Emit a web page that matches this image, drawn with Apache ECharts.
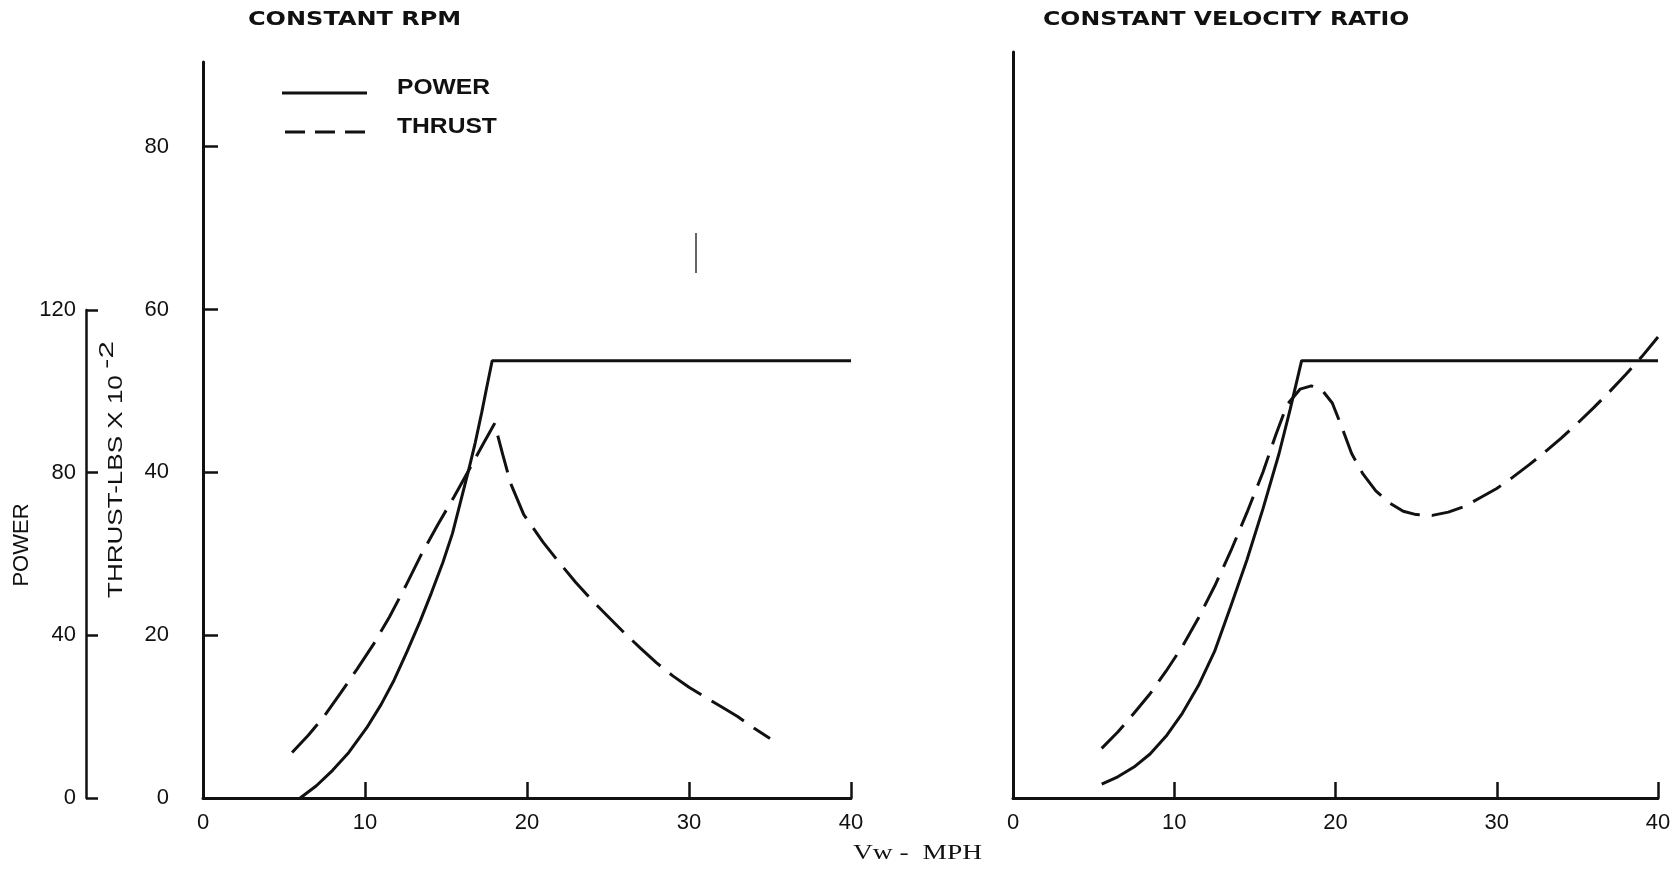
<!DOCTYPE html>
<html>
<head>
<meta charset="utf-8">
<title>Constant RPM / Constant velocity ratio</title>
<script src="https://cdn.jsdelivr.net/npm/echarts@6/dist/echarts.min.js"></script>
<style>
  html, body { margin: 0; background: #fff; }
  #chart { width: 1679px; height: 870px; }
</style>
</head>
<body>
<div id="chart"></div>
<script>
// Power and thrust vs wind speed Vw (mph); thrust axis in lbs x 10^-2, power = 2 x thrust scale
const X_TICKS = [0, 10, 20, 30, 40];
const THRUST_TICKS = [0, 20, 40, 60, 80];
const POWER_TICKS = [0, 40, 80, 120];

// left panel: constant RPM
const rpmPower = [
  [6.0, 0], [7.0, 1.5], [8.0, 3.4], [9.0, 5.6], [10.1, 8.6], [11.0, 11.5], [11.8, 14.5],
  [12.6, 18.0], [13.4, 21.7], [14.1, 25.2], [14.8, 28.9], [15.4, 32.5], [15.9, 36.4],
  [16.4, 40.3], [16.8, 43.6], [17.2, 47.3], [17.5, 50.3], [17.85, 53.7], [40, 53.7]
];
const rpmThrust = [
  [5.5, 5.6], [6.5, 7.7], [7.5, 10.1], [8.5, 12.9], [9.5, 15.8], [10.5, 18.8], [11.5, 22.2],
  [12.5, 26.0], [13.5, 30.0], [14.5, 33.6], [15.5, 37.0], [16.5, 40.6], [17.3, 43.5],
  [18.0, 46.0], [18.5, 42.2], [19.0, 38.6], [19.8, 34.8], [21.0, 31.4], [22.0, 28.9],
  [23.0, 26.5], [24.0, 24.3], [25.0, 22.3], [26.0, 20.3], [27.0, 18.4], [28.0, 16.6],
  [29.0, 15.0], [30.0, 13.6], [31.0, 12.4], [32.0, 11.2], [33.0, 10.0], [34.0, 8.6], [35.0, 7.3]
];

// right panel: constant velocity ratio
const cvrPower = [
  [5.5, 1.7], [6.5, 2.6], [7.5, 3.8], [8.5, 5.4], [9.5, 7.6], [10.5, 10.4], [11.5, 13.8],
  [12.5, 18.0], [13.5, 23.5], [14.5, 29.2], [15.5, 35.5], [16.5, 42.3], [17.2, 47.8],
  [17.9, 53.7], [40, 53.7]
];
const cvrThrust = [
  [5.5, 6.1], [6.5, 8.1], [7.5, 10.4], [8.5, 12.8], [9.5, 15.6], [10.5, 18.6], [11.5, 22.1],
  [12.5, 26.0], [13.5, 30.3], [14.5, 35.0], [15.5, 40.0], [16.3, 44.6], [17.0, 48.3],
  [17.8, 50.2], [18.5, 50.6], [19.2, 50.0], [19.8, 48.5], [20.4, 45.5], [21.0, 42.3],
  [21.7, 39.8], [22.5, 37.7], [23.3, 36.3], [24.2, 35.2], [25.0, 34.8], [26.0, 34.7],
  [27.0, 35.1], [28.0, 35.8], [29.0, 36.9], [30.0, 38.0], [31.0, 39.4], [32.0, 40.9],
  [33.0, 42.5], [34.0, 44.2], [35.0, 46.0], [36.0, 47.9], [37.0, 49.9], [38.0, 52.0],
  [39.0, 54.2], [40.0, 56.6]
];

const INK = '#111';
const SANS = '"Liberation Sans", Arial, sans-serif';
const lbl = { color: INK, fontFamily: SANS, fontSize: 22 };

function xAxisFor(grid) {
  return {
    gridIndex: grid, type: 'value', min: 0, max: 40, interval: 10,
    axisLine: { show: true, onZero: false, lineStyle: { color: INK, width: 3 } },
    axisTick: { show: true, inside: true, length: 16, lineStyle: { color: INK, width: 2.5 } },
    axisLabel: Object.assign({ margin: 14, customValues: X_TICKS }, lbl),
    splitLine: { show: false }
  };
}

function line(name, data, x, y, dash) {
  return {
    name, type: 'line', xAxisIndex: x, yAxisIndex: y, data,
    showSymbol: false, symbol: 'none', smooth: false, animation: false,
    lineStyle: { color: INK, width: 3, type: dash || 'solid' }
  };
}

function text(x, y, s, font, el) {
  return Object.assign({
    type: 'text', x, y,
    style: { text: s, fill: INK, font, verticalAlign: 'middle' }
  }, el);
}

const chart = echarts.init(document.getElementById('chart'), null, { renderer: 'canvas' });
chart.setOption({
  backgroundColor: '#fff',
  animation: false,
  grid: [
    { left: 203, top: 62, width: 648, height: 736, outerBoundsMode: 'none' },
    { left: 1013, top: 52, width: 645, height: 746, outerBoundsMode: 'none' },
    { left: 86, top: 310, width: 1, height: 488, outerBoundsMode: 'none' }
  ],
  xAxis: [xAxisFor(0), xAxisFor(1), { gridIndex: 2, type: 'value', show: false, min: 0, max: 1 }],
  yAxis: [
    {
      gridIndex: 0, type: 'value', min: 0, max: 90.4,
      axisLine: { show: true, lineStyle: { color: INK, width: 3 } },
      axisTick: { show: true, inside: true, length: 15, customValues: THRUST_TICKS, lineStyle: { color: INK, width: 2.5 } },
      axisLabel: Object.assign({ margin: 34, customValues: THRUST_TICKS }, lbl),
      splitLine: { show: false }
    },
    {
      gridIndex: 1, type: 'value', min: 0, max: 91.6,
      axisLine: { show: true, lineStyle: { color: INK, width: 3 } },
      axisTick: { show: false }, axisLabel: { show: false }, splitLine: { show: false }
    },
    {
      gridIndex: 2, type: 'value', min: 0, max: 120, interval: 40,
      axisLine: { show: true, lineStyle: { color: INK, width: 2.5 } },
      axisTick: { show: true, inside: true, length: 12, lineStyle: { color: INK, width: 2.5 } },
      axisLabel: Object.assign({ margin: 10, customValues: POWER_TICKS }, lbl),
      splitLine: { show: false }
    }
  ],
  series: [
    line('POWER', rpmPower, 0, 0),
    line('THRUST', rpmThrust, 0, 0, [38, 12]),
    line('POWER', cvrPower, 1, 1),
    line('THRUST', cvrThrust, 1, 1, [32, 12])
  ],
  graphic: [
    // panel titles
    text(248, 20, 'CONSTANT RPM', 'bold 20px "DejaVu Sans", sans-serif', { scaleX: 1.2 }),
    text(1043, 20, 'CONSTANT VELOCITY RATIO', 'bold 20px "DejaVu Sans", sans-serif', { scaleX: 1.18 }),
    // key
    { type: 'line', shape: { x1: 282, y1: 93, x2: 367, y2: 93 }, style: { stroke: INK, lineWidth: 3 } },
    { type: 'line', shape: { x1: 285, y1: 132, x2: 367, y2: 132 }, style: { stroke: INK, lineWidth: 3, lineDash: [20, 10] } },
    text(397, 88, 'POWER', 'bold 22px ' + SANS, { scaleX: 1.12 }),
    text(397, 127, 'THRUST', 'bold 22px ' + SANS, { scaleX: 1.12 }),
    // axis titles
    text(116, 598, 'THRUST-LBS X 10', '21px ' + SANS, { rotation: Math.PI / 2, scaleX: 1.24 }),
    text(107, 369, '-2', '21px ' + SANS, { rotation: Math.PI / 2, scaleX: 1.5 }),
    {
      type: 'text', x: 22, y: 545, rotation: Math.PI / 2,
      style: { text: 'POWER', fill: INK, font: '22px ' + SANS, align: 'center', verticalAlign: 'middle' }
    },
    text(853, 853, 'Vw -  MPH', '22px "Liberation Serif", serif', { scaleX: 1.25 }),
    // scan mark
    { type: 'line', shape: { x1: 696, y1: 233, x2: 696, y2: 273 }, style: { stroke: '#333', lineWidth: 1.5 } }
  ]
});
</script>
</body>
</html>
